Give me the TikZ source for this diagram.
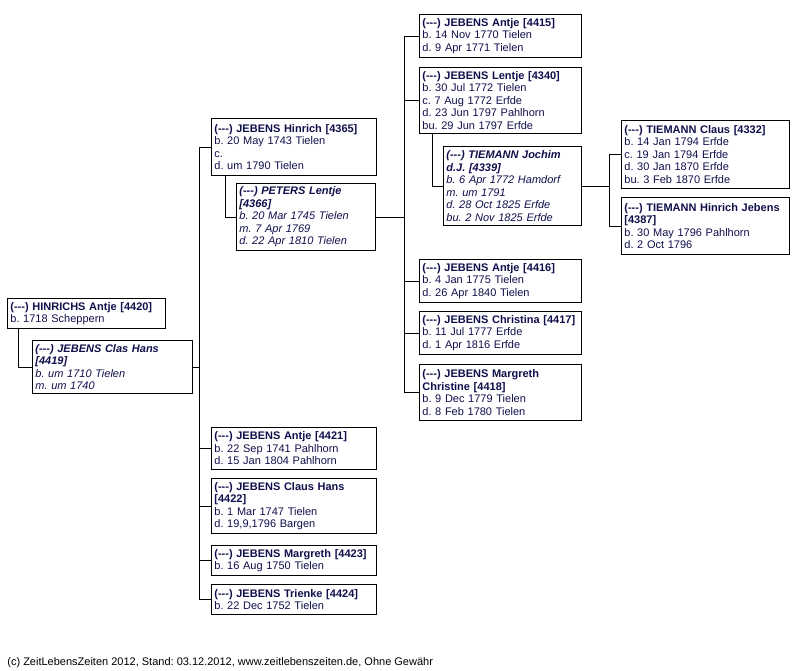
\documentclass[tikz,border=0pt]{standalone}
\usepackage{fontspec}
\setmainfont{Liberation Sans}
\usetikzlibrary{positioning, calc}
\definecolor{textnavy}{RGB}{15,15,75}
\newcommand{\unkn}{(-{}-{}-)}
\frenchspacing

\begin{document}
\begin{tikzpicture}[x=1pt, y=-1pt, line width=0.8pt,
  person/.style={draw, anchor=north west, align=left, inner xsep=3pt, inner ysep=2pt,
    text=textnavy, font=\fontsize{11}{12.5}\selectfont},
  spouse/.style={person, font=\fontsize{11}{12.5}\selectfont\itshape}]
  \useasboundingbox (0,0) rectangle (799,670);
  \coordinate (bus1) at (199,0);
  \coordinate (bus2) at (404,0);
  \coordinate (bus3) at (609,0);

  % generation 1
  \node[person, text width=152pt, minimum height=30pt] (hinrichs) at (7,298)
    {\textbf{\unkn{} HINRICHS Antje [4420]}\\b. 1718 Scheppern};
  \node[spouse, text width=154pt, minimum height=53pt] (clas) at (32,340)
    {\textbf{\unkn{} JEBENS Clas Hans}\\\textbf{[4419]}\\b. um 1710 Tielen\\m. um 1740};

  % generation 2
  \node[person, text width=159pt, minimum height=57pt] (hinrich) at (211,118)
    {\textbf{\unkn{} JEBENS Hinrich [4365]}\\b. 20 May 1743 Tielen\\c.\\d. um 1790 Tielen};
  \node[spouse, text width=133pt, minimum height=67pt] (peters) at (236,183)
    {\textbf{\unkn{} PETERS Lentje}\\\textbf{[4366]}\\b. 20 Mar 1745 Tielen\\m. 7 Apr 1769\\d. 22 Apr 1810 Tielen};
  \node[person, text width=159pt, minimum height=42pt] (antjeb) at (211,427)
    {\textbf{\unkn{} JEBENS Antje [4421]}\\b. 22 Sep 1741 Pahlhorn\\d. 15 Jan 1804 Pahlhorn};
  \node[person, text width=159pt, minimum height=55pt] (claushans) at (211,478)
    {\textbf{\unkn{} JEBENS Claus Hans}\\\textbf{[4422]}\\b. 1 Mar 1747 Tielen\\d. 19,9,1796 Bargen};
  \node[person, text width=159pt, minimum height=30pt] (margreth) at (211,545)
    {\textbf{\unkn{} JEBENS Margreth [4423]}\\b. 16 Aug 1750 Tielen};
  \node[person, text width=159pt, minimum height=30pt] (trienke) at (211,584)
    {\textbf{\unkn{} JEBENS Trienke [4424]}\\b. 22 Dec 1752 Tielen};

  % generation 3
  \node[person, text width=156pt, minimum height=43pt] (antjea) at (419,14)
    {\textbf{\unkn{} JEBENS Antje [4415]}\\b. 14 Nov 1770 Tielen\\d. 9 Apr 1771 Tielen};
  \node[person, text width=156pt, minimum height=66pt] (lentje) at (419,67)
    {\textbf{\unkn{} JEBENS Lentje [4340]}\\b. 30 Jul 1772 Tielen\\c. 7 Aug 1772 Erfde\\d. 23 Jun 1797 Pahlhorn\\bu. 29 Jun 1797 Erfde};
  \node[spouse, text width=132pt, minimum height=79pt] (jochim) at (443,146)
    {\textbf{\unkn{} TIEMANN Jochim}\\\textbf{d.J. [4339]}\\b. 6 Apr 1772 Hamdorf\\m. um 1791\\d. 28 Oct 1825 Erfde\\bu. 2 Nov 1825 Erfde};
  \node[person, text width=156pt, minimum height=43pt] (antjec) at (419,259)
    {\textbf{\unkn{} JEBENS Antje [4416]}\\b. 4 Jan 1775 Tielen\\d. 26 Apr 1840 Tielen};
  \node[person, text width=156pt, minimum height=43pt] (christina) at (419,311)
    {\textbf{\unkn{} JEBENS Christina [4417]}\\b. 11 Jul 1777 Erfde\\d. 1 Apr 1816 Erfde};
  \node[person, text width=156pt, minimum height=56pt] (christine) at (419,364)
    {\textbf{\unkn{} JEBENS Margreth}\\\textbf{Christine [4418]}\\b. 9 Dec 1779 Tielen\\d. 8 Feb 1780 Tielen};

  % generation 4
  \node[person, text width=162pt, minimum height=68pt] (claus) at (621,120)
    {\textbf{\unkn{} TIEMANN Claus [4332]}\\b. 14 Jan 1794 Erfde\\c. 19 Jan 1794 Erfde\\d. 30 Jan 1870 Erfde\\bu. 3 Feb 1870 Erfde};
  \node[person, text width=162pt, minimum height=57pt] (hinrichj) at (621,197)
    {\textbf{\unkn{} TIEMANN Hinrich Jebens}\\\textbf{[4387]}\\b. 30 May 1796 Pahlhorn\\d. 2 Oct 1796};

  % couples and children
  \draw ([xshift=11pt]hinrichs.south west) |- (clas.west);
  \draw (clas.east) -- (clas.east -| bus1);
  \draw (hinrich.west -| bus1) -- (trienke.west -| bus1);
  \foreach \kid in {hinrich, antjeb, claushans, margreth, trienke}
    \draw (\kid.west -| bus1) -- (\kid.west);

  \draw ([xshift=14pt]hinrich.south west) |- (peters.west);
  \draw (peters.east) -- (peters.east -| bus2);
  \draw (antjea.west -| bus2) -- (christine.west -| bus2);
  \foreach \kid in {antjea, lentje, antjec, christina, christine}
    \draw (\kid.west -| bus2) -- (\kid.west);

  \draw ([xshift=13pt]lentje.south west) |- (jochim.west);
  \draw (jochim.east) -- (jochim.east -| bus3);
  \draw (claus.west -| bus3) -- (hinrichj.west -| bus3);
  \foreach \kid in {claus, hinrichj}
    \draw (\kid.west -| bus3) -- (\kid.west);

  \node[anchor=base west, inner sep=0pt, font=\fontsize{11}{13}\selectfont] (footer) at (7,665)
    {(c) ZeitLebensZeiten 2012, Stand: 03.12.2012, www.zeitlebenszeiten.de, Ohne Gewähr};
\end{tikzpicture}
\end{document}
